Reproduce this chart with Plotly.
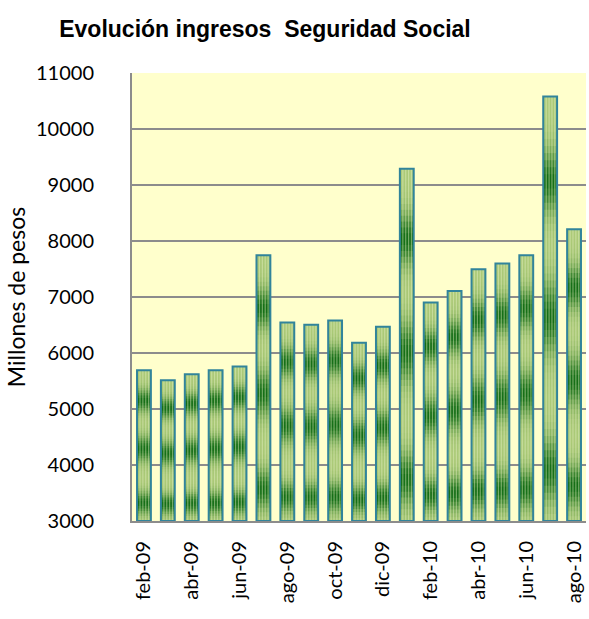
import numpy as np
import plotly.graph_objects as go

# Monthly Social Security revenue (millions of pesos)
months = ["feb-09", "mar-09", "abr-09", "may-09", "jun-09", "jul-09", "ago-09",
          "sep-09", "oct-09", "nov-09", "dic-09", "ene-10", "feb-10", "mar-10",
          "abr-10", "may-10", "jun-10", "jul-10", "ago-10"]
ingresos = [5690, 5515, 5620, 5690, 5760, 7745, 6545, 6505, 6580, 6185, 6470,
            9290, 6900, 7105, 7495, 7600, 7745, 10580, 8210]
tick_labels = months[::2]

y_min, y_max = 3000, 11000
n_seg = 60
bar_w = 0.58

light = np.array([172, 202, 120])
dark = np.array([20, 110, 22])


def shade(frac):
    # dark bands along the bar height, lighter green in between
    d = 0.0
    for c, w in ((0.12, 0.07), (0.48, 0.08), (0.80, 0.07)):
        d = max(d, np.exp(-((frac - c) / w) ** 2))
    rgb = light * (1 - d) + dark * d
    return "rgb(%d,%d,%d)" % tuple(rgb.round())


fig = go.Figure()
vals = np.array(ingresos, dtype=float)
step = (vals - y_min) / n_seg
# each layer runs from its own start up to the bar top, so later layers
# cover the earlier ones without seams
for k in range(n_seg):
    frac = (k + 0.5) / n_seg
    fig.add_trace(go.Bar(
        x=months, y=vals - (y_min + k * step), base=y_min + k * step,
        marker=dict(color=shade(frac), line=dict(width=0)),
        width=bar_w, hoverinfo="skip", showlegend=False))

# pale vertical streaks inside each bar
for off in (-0.19, -0.07, 0.05, 0.17):
    fig.add_trace(go.Bar(
        x=months, y=vals - y_min, base=y_min,
        width=0.05, offset=off,
        marker=dict(color="rgba(232,242,200,0.45)", line=dict(width=0)),
        hoverinfo="skip", showlegend=False))

# outline of each bar
fig.add_trace(go.Bar(
    x=months, y=vals - y_min, base=y_min,
    marker=dict(color="rgba(0,0,0,0)", line=dict(color="#31849B", width=2)),
    width=bar_w, showlegend=False, name="Ingresos"))

fig.update_layout(
    width=589, height=619,
    barmode="overlay",
    paper_bgcolor="white",
    plot_bgcolor="#FFFFCC",
    margin=dict(l=132, r=3, t=73, b=98),
    title=dict(text="<b>Evolución ingresos  Seguridad Social</b>",
               x=265 / 589, xanchor="center", y=1 - 29 / 619, yanchor="middle",
               font=dict(family="Liberation Sans, Arial", size=23, color="black")),
    font=dict(family="Lato, Open Sans", color="black"),
)
fig.update_yaxes(
    range=[y_min, y_max], dtick=1000, tickformat="d",
    showgrid=True, gridcolor="#8c8c8c", gridwidth=1.5,
    showline=True, linecolor="#8c8c8c", linewidth=2,
    ticks="outside", ticklen=32, tickcolor="rgba(0,0,0,0)",
    tickfont=dict(size=20, family="Lato"),
    zeroline=False,
    title=dict(text="Millones de pesos", font=dict(size=23, family="Lato"), standoff=4),
)
fig.update_xaxes(
    type="category", categoryorder="array", categoryarray=months,
    range=[-0.5, len(months) - 0.5],
    tickvals=tick_labels, ticktext=tick_labels,
    tickangle=-90,
    showline=True, linecolor="#8c8c8c", linewidth=2,
    showgrid=False,
    ticks="outside", ticklen=10, tickcolor="rgba(0,0,0,0)",
    tickfont=dict(size=20, family="Lato"),
)

fig.write_html("out.html")
